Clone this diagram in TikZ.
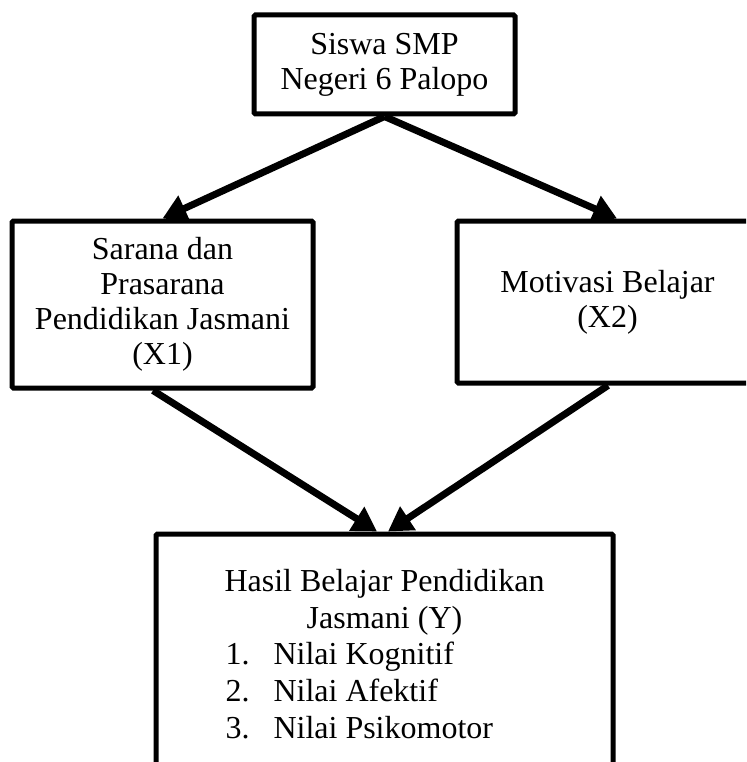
\documentclass[tikz,border=0pt]{standalone}
\usepackage{fontspec}
\setmainfont{Liberation Serif}
\usetikzlibrary{arrows.meta}

\begin{document}
\begin{tikzpicture}[
				x=1pt, y=1pt,
				box/.style={
					rectangle,
					draw=black,
					line width=5pt,
					rounded corners=1.5pt,
					align=center,
					inner sep=0pt,
					font=\fontsize{32}{35}\selectfont
				},
				arrow/.style={
					-{Triangle[length=24pt,width=27pt]},
					line width=7pt
				}
			]
			\useasboundingbox (0,0) rectangle (746,-762);
			\clip (0,0) rectangle (746,-762);
			% Nodes
			\node[box, minimum width=261pt, minimum height=99pt] (siswa) at (384.5,-64.5) {Siswa SMP\\ Negeri 6 Palopo};
			
			\node[box, minimum width=301pt, minimum height=167pt] (sarana) at (162.5,-304.5) {Sarana dan\\ Prasarana\\ Pendidikan Jasmani\\ (X1)};
			\node[box, minimum width=301pt, minimum height=162pt] (motivasi) at (607.5,-302) {Motivasi Belajar\\ (X2)};
			\node[box, minimum width=457pt, minimum height=240pt, font=\fontsize{32}{36.7}\selectfont] (hasil) at (384.5,-654) {Hasil Belajar Pendidikan\\ Jasmani (Y)\\
				\makebox[318pt][l]{\makebox[48pt][l]{1.}Nilai Kognitif}\\
				\makebox[318pt][l]{\makebox[48pt][l]{2.}Nilai Afektif}\\
				\makebox[318pt][l]{\makebox[48pt][l]{3.}Nilai Psikomotor}};
			
			\draw[arrow] (siswa.south) -- (sarana.north);
			\draw[arrow] (siswa.south) -- ([xshift=9.5pt]motivasi.north);
			\draw[arrow] ([xshift=-9.5pt]sarana.south) -- ([xshift=-7.5pt]hasil.north);
			\draw[arrow] ([xshift=0.5pt]motivasi.south) -- ([xshift=3.5pt]hasil.north);
		\end{tikzpicture}
\end{document}
